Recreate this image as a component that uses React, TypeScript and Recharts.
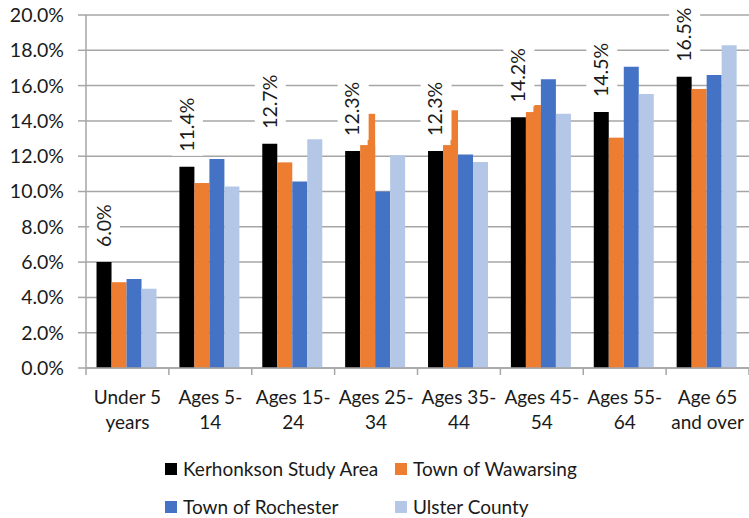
import React from "react";
import { BarChart, Bar, XAxis, YAxis, CartesianGrid, LabelList } from "recharts";

const categories = ["Under 5 years", "Ages 5-14", "Ages 15-24", "Ages 25-34", "Ages 35-44", "Ages 45-54", "Ages 55-64", "Age 65 and over"];
const categoryLines = [
  ["Under 5", "years"],
  ["Ages 5-", "14"],
  ["Ages 15-", "24"],
  ["Ages 25-", "34"],
  ["Ages 35-", "44"],
  ["Ages 45-", "54"],
  ["Ages 55-", "64"],
  ["Age 65", "and over"],
];

const kerhonkson = [6.0, 11.4, 12.7, 12.3, 12.3, 14.2, 14.5, 16.5];
const wawarsing = [4.86, 10.48, 11.65, 12.63, 12.63, 14.5, 13.05, 15.81];
// thin step seen on the right half of some Wawarsing bars
const wawarsingSpike = [null, null, null, 14.4, 14.6, 14.9, null, null];
const rochester = [5.04, 11.84, 10.56, 10.0, 12.1, 16.36, 17.07, 16.6];
const ulster = [4.49, 10.29, 12.96, 12.05, 11.67, 14.41, 15.52, 18.28];

const yTicks = [0, 2, 4, 6, 8, 10, 12, 14, 16, 18, 20];

const series = [
  { key: "kerhonkson", name: "Kerhonkson Study Area", color: "#000000" },
  { key: "wawarsing", name: "Town of Wawarsing", color: "#ED7D31" },
  { key: "rochester", name: "Town of Rochester", color: "#4472C4" },
  { key: "ulster", name: "Ulster County", color: "#B4C7E7" },
];

const data = categories.map((name, i) => ({
  name,
  kerhonkson: kerhonkson[i],
  wawarsing: wawarsing[i],
  spike: wawarsingSpike[i],
  rochester: rochester[i],
  ulster: ulster[i],
}));

const FONT = "Lato, 'Open Sans', sans-serif";
const GRID = "#a6a6a6";
const TEXT = "#1a1a1a";

function CategoryTick(props: any) {
  const { x, y, payload } = props;
  const idx = categories.indexOf(payload.value);
  const half = payload.offset || 0;
  const left = x - half;
  const lines = categoryLines[idx] || [payload.value];
  return (
    <g>
      <line x1={left} y1={y} x2={left} y2={y + 7} stroke={GRID} strokeWidth={1.5} />
      {idx === categories.length - 1 && (
        <line x1={x + half} y1={y} x2={x + half} y2={y + 7} stroke={GRID} strokeWidth={1.5} />
      )}
      {lines.map((t, i) => (
        <text key={i} x={x} y={y + 29 + i * 25} dy="0.35em" textAnchor="middle" fill={TEXT} fontSize={19} fontFamily={FONT}>
          {t}
        </text>
      ))}
    </g>
  );
}

function ValueLabel(props: any) {
  const { x, y, width, value } = props;
  const cx = x + width / 2;
  const text = `${Number(value).toFixed(1)}%`;
  const len = text.length * 10.5;
  const bottom = y - 15;
  return (
    <g>
      <rect x={cx - 15} y={bottom - len - 3} width={31} height={len + 7} fill="#fff" />
      <text
        x={cx}
        y={bottom}
        transform={`rotate(-90 ${cx} ${bottom})`}
        dy="0.35em"
        textAnchor="start"
        fill={TEXT}
        fontSize={19.5}
        fontFamily={FONT}
      >
        {text}
      </text>
    </g>
  );
}

function WawarsingShape(props: any) {
  const { x, y, width, height, payload, fill } = props;
  const v = payload.wawarsing;
  const pxPer = v ? height / v : 0;
  const base = y + height;
  return (
    <g>
      <rect x={x} y={y} width={width} height={height} fill={fill} />
      {payload.spike != null && (
        <rect x={x + width / 2} y={base - payload.spike * pxPer} width={width / 2} height={payload.spike * pxPer} fill={fill} />
      )}
    </g>
  );
}

export default function App() {
  return (
    <div style={{ position: "absolute", left: 0, top: 0, width: 749, height: 518, background: "#fff", fontFamily: FONT, overflow: "hidden" }}>
      <BarChart
        width={749}
        height={518}
        data={data}
        margin={{ top: 15, right: 0, left: 0, bottom: 0 }}
        barCategoryGap="12.7%"
        barGap={0}
      >
        <CartesianGrid vertical={false} stroke={GRID} strokeWidth={1.5} />
        <XAxis
          dataKey="name"
          height={150}
          axisLine={{ stroke: GRID, strokeWidth: 1.5 }}
          tickLine={false}
          tickSize={0}
          tickMargin={0}
          interval={0}
          tick={<CategoryTick />}
        />
        <YAxis
          width={86}
          domain={[0, 20]}
          ticks={yTicks}
          interval={0}
          tickFormatter={(v: number) => `${v.toFixed(1)}%`}
          axisLine={{ stroke: GRID, strokeWidth: 1.5 }}
          tickLine={{ stroke: GRID, strokeWidth: 1.5 }}
          tickSize={8}
          tickMargin={14}
          tick={{ fill: TEXT, fontSize: 19.5, fontFamily: FONT }}
        />
        {series.map((s) => (
          <Bar
            key={s.key}
            dataKey={s.key}
            fill={s.color}
            isAnimationActive={false}
            shape={s.key === "wawarsing" ? <WawarsingShape /> : undefined}
          >
            {s.key === "kerhonkson" && <LabelList dataKey="kerhonkson" content={<ValueLabel />} />}
          </Bar>
        ))}
      </BarChart>
      {[series.slice(0, 2), series.slice(2, 4)].map((row, r) => (
        <div
          key={r}
          style={{ position: "absolute", left: 165, top: 458 + r * 38, display: "flex", height: 22, lineHeight: "22px", alignItems: "center" }}
        >
          {row.map((s) => (
            <div key={s.key} style={{ width: 230, display: "flex", alignItems: "center", fontSize: 19, color: TEXT }}>
              <span style={{ width: 12, height: 12, background: s.color, marginRight: 6, display: "inline-block" }} />
              <span style={{ whiteSpace: "nowrap" }}>{s.name}</span>
            </div>
          ))}
        </div>
      ))}
    </div>
  );
}
